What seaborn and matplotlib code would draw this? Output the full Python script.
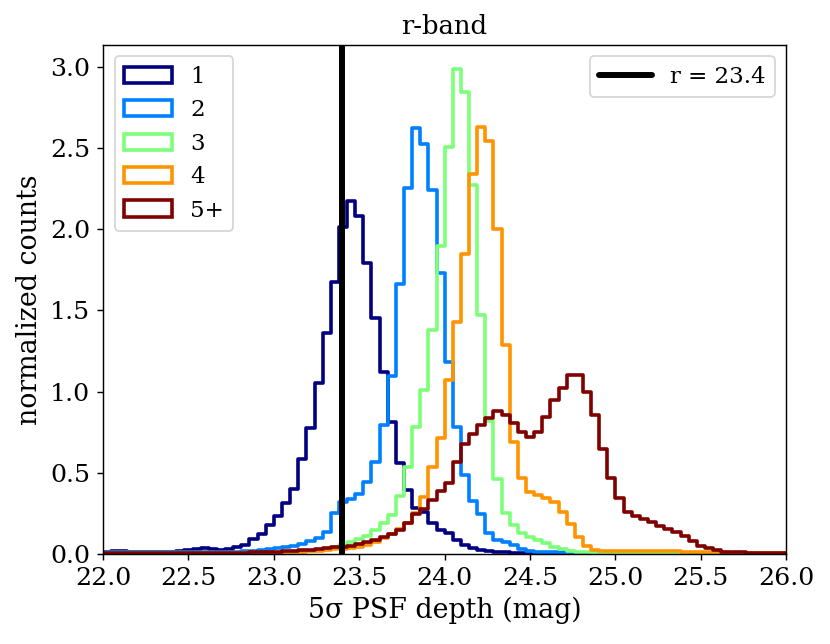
import numpy as np
import pandas as pd
import matplotlib
matplotlib.use('Agg')
import matplotlib.pyplot as plt
from matplotlib.colors import to_hex
from matplotlib.patches import Patch
import seaborn as sns

# normalized counts per 5-sigma depth bin, one list per number of exposures
labels = ['1', '2', '3', '4', '5+']
depth_1 = [0.015, 0.020, 0.018, 0.012, 0.012, 0.012, 0.012, 0.013, 0.015, 0.020,
           0.022, 0.030, 0.035, 0.030, 0.025, 0.030, 0.045, 0.055, 0.090, 0.125,
           0.180, 0.235, 0.315, 0.400, 0.583, 0.774, 1.055, 1.363, 1.674, 2.015,
           2.175, 2.084, 1.790, 1.451, 1.120, 0.815, 0.560, 0.392, 0.286, 0.257,
           0.193, 0.150, 0.127, 0.085, 0.057, 0.038, 0.025, 0.018, 0.012, 0.010,
           0.008, 0.006, 0.005, 0.004, 0.003, 0.003, 0.002, 0.002, 0.002, 0.002,
           0.001, 0.001, 0.001, 0.001, 0.001, 0.001, 0.001, 0.001, 0.001, 0.001,
           0.001, 0.001, 0.001, 0.001, 0.001, 0.001, 0.001, 0.001, 0.001, 0.001,
           0.001, 0.001, 0.001, 0.001]
depth_2 = [0.012, 0.012, 0.013, 0.012, 0.012, 0.012, 0.013, 0.012, 0.012, 0.013,
           0.013, 0.012, 0.013, 0.013, 0.014, 0.014, 0.015, 0.018, 0.020, 0.025,
           0.030, 0.037, 0.045, 0.052, 0.062, 0.078, 0.100, 0.138, 0.250, 0.320,
           0.340, 0.370, 0.445, 0.568, 0.792, 1.094, 1.665, 2.252, 2.625, 2.523,
           2.243, 1.731, 1.184, 0.782, 0.486, 0.325, 0.248, 0.128, 0.086, 0.076,
           0.055, 0.029, 0.020, 0.015, 0.013, 0.012, 0.010, 0.008, 0.006, 0.005,
           0.004, 0.004, 0.003, 0.003, 0.003, 0.002, 0.002, 0.002, 0.002, 0.002,
           0.002, 0.001, 0.001, 0.001, 0.001, 0.001, 0.001, 0.001, 0.001, 0.001,
           0.001, 0.001, 0.001, 0.001]
depth_3 = [0.003, 0.003, 0.003, 0.003, 0.003, 0.003, 0.004, 0.004, 0.004, 0.004,
           0.004, 0.004, 0.005, 0.005, 0.005, 0.005, 0.005, 0.005, 0.005, 0.006,
           0.006, 0.008, 0.010, 0.012, 0.015, 0.018, 0.022, 0.030, 0.040, 0.055,
           0.073, 0.090, 0.110, 0.150, 0.190, 0.237, 0.360, 0.538, 0.782, 1.008,
           1.379, 1.898, 2.508, 2.986, 2.847, 2.276, 1.470, 0.820, 0.462, 0.250,
           0.176, 0.131, 0.103, 0.083, 0.066, 0.045, 0.030, 0.020, 0.013, 0.010,
           0.009, 0.008, 0.007, 0.006, 0.006, 0.006, 0.005, 0.005, 0.005, 0.005,
           0.004, 0.004, 0.004, 0.003, 0.003, 0.003, 0.003, 0.002, 0.002, 0.002,
           0.002, 0.002, 0.002, 0.002]
depth_4 = [0.003, 0.003, 0.003, 0.003, 0.003, 0.004, 0.004, 0.004, 0.004, 0.004,
           0.004, 0.005, 0.005, 0.005, 0.005, 0.005, 0.005, 0.005, 0.005, 0.005,
           0.006, 0.008, 0.010, 0.012, 0.015, 0.018, 0.020, 0.025, 0.030, 0.033,
           0.035, 0.041, 0.055, 0.076, 0.096, 0.123, 0.152, 0.193, 0.250, 0.348,
           0.533, 0.717, 1.074, 1.427, 1.847, 2.339, 2.633, 2.547, 2.003, 1.287,
           0.687, 0.466, 0.384, 0.363, 0.345, 0.318, 0.260, 0.182, 0.107, 0.050,
           0.023, 0.018, 0.017, 0.017, 0.017, 0.017, 0.017, 0.016, 0.016, 0.016,
           0.016, 0.015, 0.015, 0.013, 0.013, 0.013, 0.012, 0.008, 0.006, 0.004,
           0.004, 0.003, 0.003, 0.003]
depth_5 = [0.005, 0.005, 0.005, 0.005, 0.005, 0.006, 0.006, 0.006, 0.006, 0.006,
           0.006, 0.007, 0.007, 0.007, 0.007, 0.008, 0.008, 0.008, 0.010, 0.010,
           0.012, 0.015, 0.018, 0.020, 0.025, 0.027, 0.030, 0.035, 0.040, 0.045,
           0.050, 0.060, 0.072, 0.088, 0.105, 0.125, 0.145, 0.190, 0.245, 0.280,
           0.335, 0.390, 0.437, 0.565, 0.680, 0.742, 0.795, 0.838, 0.882, 0.856,
           0.807, 0.753, 0.722, 0.753, 0.846, 0.948, 1.020, 1.105, 1.105, 0.999,
           0.856, 0.645, 0.466, 0.343, 0.258, 0.232, 0.214, 0.195, 0.173, 0.153,
           0.134, 0.112, 0.080, 0.052, 0.035, 0.022, 0.015, 0.013, 0.010, 0.009,
           0.008, 0.007, 0.006, 0.005]
series = [depth_1, depth_2, depth_3, depth_4, depth_5]
r_cut = 23.4

n_bins = 84
depth_range = (22.0, 26.0)
edges = np.linspace(depth_range[0], depth_range[1], n_bins + 1)
centers = 0.5 * (edges[:-1] + edges[1:])

sns.set_style('ticks')
plt.rcParams['font.family'] = ['DejaVu Serif']
plt.rcParams['font.size'] = 14
plt.rcParams['axes.edgecolor'] = 'black'
plt.rcParams['xtick.color'] = 'black'
plt.rcParams['ytick.color'] = 'black'
plt.rcParams['text.color'] = 'black'
plt.rcParams['axes.labelcolor'] = 'black'

fig = plt.figure(figsize=(830 / 130, 644 / 130), dpi=130)
ax = fig.add_axes([0.1242, 0.1398, 0.8231, 0.7903])

colors = [to_hex(c) for c in plt.cm.jet(np.linspace(0, 1, 5))]
for vals, c in zip(series, colors):
    df = pd.DataFrame({'depth': centers, 'w': vals})
    sns.histplot(data=df, x='depth', weights='w', bins=n_bins,
                 binrange=depth_range, element='step',
                 fill=False, color=c, linewidth=2.0, ax=ax)

line = ax.axvline(r_cut, color='k', lw=3.3, zorder=5, label=f'r = {r_cut}')

ax.set_xlim(22, 26)
ymax = max(max(s) for s in series)
ax.set_ylim(0, ymax * 1.05)
ax.set_xticks(np.arange(22, 26.01, 0.5))
ax.set_yticks(np.arange(0, 3.01, 0.5))
ax.set_xlabel('5σ PSF depth (mag)', fontsize=14.8)
ax.set_ylabel('normalized counts', fontsize=14.8)
ax.set_title('r-band', fontsize=14.3)

handles = [Patch(facecolor='none', edgecolor=c, linewidth=2.0, label=l)
           for c, l in zip(colors, labels)]
leg1 = ax.legend(handles=handles, loc='upper left', fontsize=12.7,
                 handlelength=2.1)
ax.add_artist(leg1)
ax.legend(handles=[line], loc='upper right', fontsize=12.7, handlelength=2.3)

fig.savefig('out.png', dpi=130)
